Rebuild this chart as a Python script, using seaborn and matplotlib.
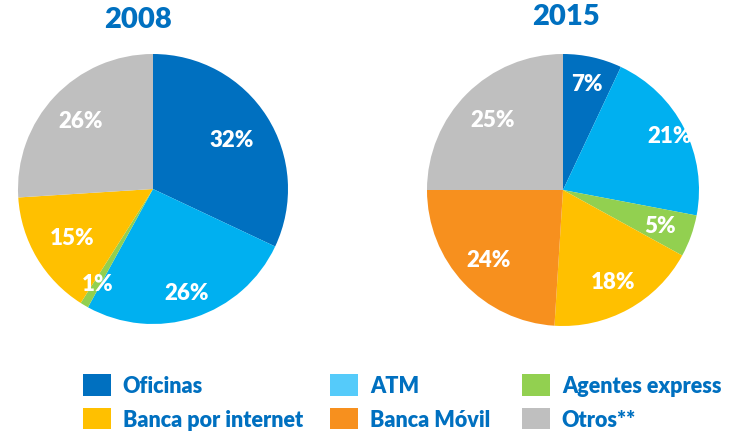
import matplotlib
matplotlib.use("Agg")
import matplotlib.pyplot as plt
from matplotlib.patches import Patch
import numpy as np
import seaborn as sns

sns.set_theme(style="white")
plt.rcParams['font.family'] = ['Lato', 'DejaVu Sans']

categories = ["Oficinas", "ATM", "Agentes express", "Banca por internet", "Banca Móvil", "Otros**"]
values_2008 = [32, 26, 1, 15, 0, 26]
values_2015 = [7, 21, 5, 18, 24, 25]
years = ["2008", "2015"]
colors = ["#0070C0", "#00B0F0", "#92D050", "#FFC000", "#F7901E", "#BFBFBF"]
legend_colors = ["#0070C0", "#55CBFA", "#92D050", "#FFC000", "#F7901E", "#BFBFBF"]
title_color = "#0070C0"

# radial placement of the percentage labels (fraction of radius)
label_dist_2008 = [0.69, 0.81, 0.81, 0.70, 0.8, 0.74]
label_dist_2015 = [0.80, 0.88, 0.76, 0.77, 0.75, 0.73]

W, H = 751, 439
fig = plt.figure(figsize=(W / 100, H / 100), dpi=100)

def draw_pie(cx, cy, r, vals, dists, year, tx, ty):
    ax = fig.add_axes([(cx - r) / W, (H - cy - r) / H, 2 * r / W, 2 * r / H])
    wedges, _ = ax.pie(vals, colors=colors, startangle=90, counterclock=False,
                       radius=1, wedgeprops=dict(linewidth=0))
    total = sum(vals)
    for w, v, d in zip(wedges, vals, dists):
        if v == 0:
            continue
        ang = np.deg2rad((w.theta1 + w.theta2) / 2)
        ax.text(d * np.cos(ang), d * np.sin(ang), f"{round(100 * v / total)}%",
                ha="center", va="center", color="white", fontsize=16, fontweight="heavy")
    ax.set_xlim(-1, 1)
    ax.set_ylim(-1, 1)
    ax.set_axis_off()
    fig.text(tx / W, 1 - ty / H, year, ha="center", va="center",
             color=title_color, fontsize=21, fontweight="heavy")

draw_pie(153, 190, 135, values_2008, label_dist_2008, years[0], 138, 20)
draw_pie(563, 191, 136, values_2015, label_dist_2015, years[1], 566, 17)

# legend: three columns of two entries each
col_x = [83, 330, 522]
for c in range(3):
    idx = [c, c + 3]
    handles = [Patch(facecolor=legend_colors[i], edgecolor="none") for i in idx]
    labels = [categories[i] for i in idx]
    leg = fig.legend(handles, labels, loc="upper left",
                     bbox_to_anchor=(col_x[c] / W, 1 - 375 / H),
                     frameon=False, borderpad=0, borderaxespad=0,
                     handlelength=1.3, handleheight=1.16, handletextpad=0.55,
                     labelspacing=0.55, prop=dict(size=15.5, weight="heavy"))
    for t in leg.get_texts():
        t.set_color(title_color)

fig.savefig("out.png", dpi=100)
